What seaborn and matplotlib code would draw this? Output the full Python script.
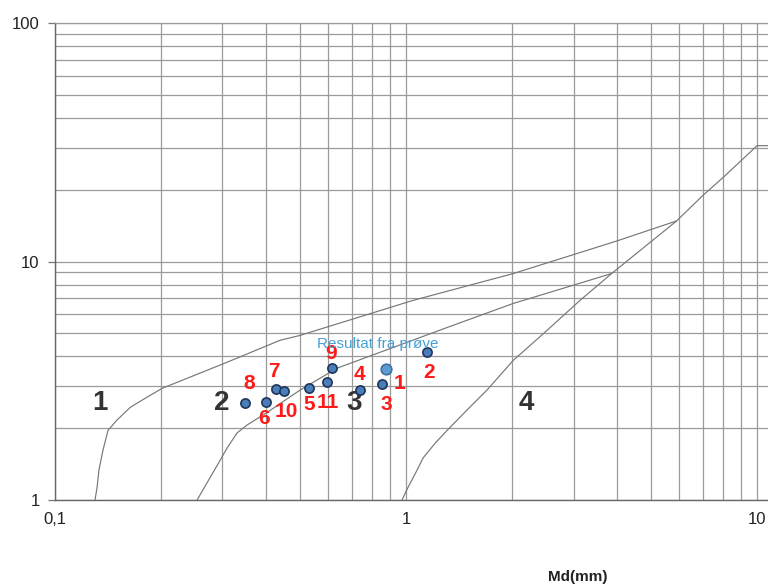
import numpy as np
import pandas as pd
import seaborn as sns
import matplotlib.pyplot as plt
from matplotlib.ticker import FixedLocator, FixedFormatter, LogLocator, NullFormatter

# grenselinjer mellom sonene (Md i mm, So)
grense1_x = [0.130, 0.1318, 0.1334, 0.137, 0.1416, 0.150, 0.164, 0.183, 0.202, 0.309,
             0.437, 0.499, 1.047, 2.02, 3.99, 5.9]
grense1_y = [1.0, 1.13, 1.335, 1.62, 1.96, 2.16, 2.45, 2.70, 2.94, 3.78,
             4.67, 4.90, 6.87, 8.9, 12.2, 14.8]

grense2_x = [0.254, 0.271, 0.290, 0.309, 0.330, 0.352, 0.402, 0.499, 0.636, 1.31, 2.02, 3.85]
grense2_y = [1.0, 1.18, 1.40, 1.65, 1.91, 2.06, 2.33, 2.89, 3.57, 5.29, 6.67, 8.9]

grense4_x = [0.974, 1.013, 1.075, 1.118, 1.21, 1.31, 1.49, 1.70, 2.02, 2.52, 3.13, 3.85,
             5.9, 7.0, 8.0, 10.0, 11.0]
grense4_y = [1.0, 1.13, 1.335, 1.50, 1.73, 1.96, 2.38, 2.89, 3.85, 5.14, 6.87, 8.9,
             14.8, 18.9, 22.5, 30.6, 30.6]

# prøveresultater
punkt = ['1', '2', '3', '4', '5', '6', '7', '8', '9', '10', '11']
md = [0.877, 1.148, 0.854, 0.739, 0.529, 0.399, 0.426, 0.347, 0.615, 0.449, 0.595]
so = [3.53, 4.16, 3.06, 2.89, 2.94, 2.57, 2.91, 2.55, 3.57, 2.86, 3.12]

sone_navn = ['1', '2', '3', '4']
sone_x = [0.134, 0.299, 0.711, 2.20]
sone_y = [2.55, 2.55, 2.55, 2.55]

x_ticks = [0.1, 1, 10]
x_ticklabels = ['0,1', '1', '10']
y_ticks = [1, 10, 100]
y_ticklabels = ['1', '10', '100']

# etikett-forskyvning i punkter
etikett_dx = [9.4, 1.4, 3.0, -0.7, 0.0, -1.4, -1.4, 3.6, -0.7, 1.4, 0.7]
etikett_dy = [-10.0, -14.4, -15.0, 11.5, -11.5, -11.5, 13.0, 14.4, 10.8, -14.4, -14.4]

sns.set_style('white')
plt.rcParams['font.family'] = ['Liberation Sans', 'DejaVu Sans']

fig = plt.figure(figsize=(7.68, 5.85), dpi=100)
ax = fig.add_axes([55 / 768, 85 / 585, 713 / 768, 477 / 585])
ax.set_xscale('log')
ax.set_yscale('log')
ax.set_xlim(0.1, 10.74)
ax.set_ylim(1, 100)

ax.xaxis.set_major_locator(FixedLocator(x_ticks))
ax.xaxis.set_major_formatter(FixedFormatter(x_ticklabels))
ax.xaxis.set_minor_locator(LogLocator(base=10, subs=np.arange(2, 10)))
ax.xaxis.set_minor_formatter(NullFormatter())
ax.yaxis.set_major_locator(FixedLocator(y_ticks))
ax.yaxis.set_major_formatter(FixedFormatter(y_ticklabels))
ax.yaxis.set_minor_locator(LogLocator(base=10, subs=np.arange(2, 10)))
ax.yaxis.set_minor_formatter(NullFormatter())

ax.grid(True, which='both', color='#9a9a9a', linewidth=0.9)
ax.tick_params(axis='x', which='both', length=0, labelsize=12, pad=9, colors='#222222')
ax.tick_params(axis='y', which='major', length=5, width=0.9, color='#777777',
               labelsize=12, pad=6, left=True, labelcolor='#222222')
ax.tick_params(axis='y', which='minor', length=0)

for side in ['left', 'bottom']:
    ax.spines[side].set_color('#666666')
    ax.spines[side].set_linewidth(1.0)
ax.spines['top'].set_color('#9a9a9a')
ax.spines['top'].set_linewidth(0.9)
ax.spines['right'].set_visible(False)

for gx, gy in [(grense1_x, grense1_y), (grense2_x, grense2_y), (grense4_x, grense4_y)]:
    sns.lineplot(x=gx, y=gy, sort=False, estimator=None, color='#777777',
                 linewidth=0.85, ax=ax)

df = pd.DataFrame({'punkt': punkt, 'md': md, 'so': so})
sns.scatterplot(data=df, x='md', y='so', s=44, color='#4a7ebb',
                edgecolor='#1f3557', linewidth=1.2, zorder=5, ax=ax)
# punkt 1 tegnet litt større og lysere
sns.scatterplot(data=df[df['punkt'] == '1'], x='md', y='so', s=58, color='#5b9bd5',
                edgecolor='#41719c', linewidth=1.2, zorder=6, ax=ax)

for i, row in df.iterrows():
    ax.annotate(row['punkt'], (row['md'], row['so']), xytext=(etikett_dx[i], etikett_dy[i]),
                textcoords='offset points', ha='center', va='center',
                color='#ff1a1a', fontsize=15, fontweight='bold', zorder=7)

for navn, sx, sy in zip(sone_navn, sone_x, sone_y):
    ax.text(sx, sy, navn, ha='center', va='center', fontsize=20,
            fontweight='bold', color='#333333')

ax.text(0.832, 4.49, 'Resultat fra prøve', ha='center', va='center',
        fontsize=11, color='#45a0d6', zorder=8)

ax.set_xlabel('')
ax.set_ylabel('')
fig.text(578 / 768, 1 - 577 / 585, 'Md(mm)', ha='center', va='center',
         fontsize=11, fontweight='bold', color='#222222')

fig.savefig('out.png', dpi=100)
